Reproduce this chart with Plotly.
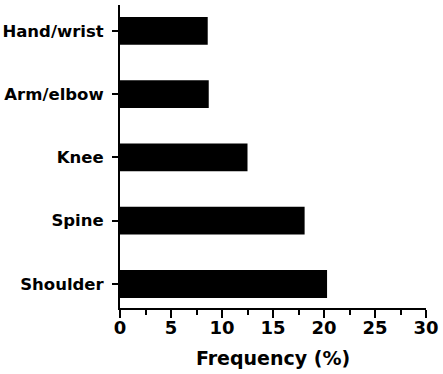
import plotly.graph_objects as go

categories = ["Shoulder", "Spine", "Knee", "Arm/elbow", "Hand/wrist"]
frequency = [20.3, 18.1, 12.5, 8.7, 8.6]
x_ticks = [0, 5, 10, 15, 20, 25, 30]

fig = go.Figure(go.Bar(
    x=frequency, y=categories, orientation="h",
    marker=dict(color="black", line=dict(width=0)),
    width=0.44,
))

font_family = "DejaVu Sans"
fig.update_layout(
    width=443, height=374,
    margin=dict(l=120, r=17, t=5, b=66),
    plot_bgcolor="white", paper_bgcolor="white",
    showlegend=False,
    font=dict(family=font_family, color="black"),
)
fig.update_xaxes(
    range=[0, 30], tickvals=x_ticks,
    automargin=False,
    showgrid=False, zeroline=False,
    showline=True, linecolor="black", linewidth=2,
    ticks="outside", ticklen=8, tickwidth=2, tickcolor="black",
    minor=dict(dtick=2.5, tick0=0, ticks="outside", ticklen=5, tickwidth=2, tickcolor="black", showgrid=False),
    tickfont=dict(size=18, weight="bold"),
    ticklabelstandoff=-6,
    title=dict(text="<b>Frequency (%)</b>", font=dict(size=19), standoff=15),
)
fig.update_yaxes(
    range=[-0.38, 4.41],
    automargin=False,
    categoryorder="array", categoryarray=categories,
    showgrid=False, zeroline=False,
    showline=True, linecolor="black", linewidth=2,
    ticks="outside", ticklen=6, tickwidth=2, tickcolor="black",
    tickfont=dict(size=16.5, weight="bold"),
    ticklabelstandoff=5,
)

fig.write_html("out.html")
